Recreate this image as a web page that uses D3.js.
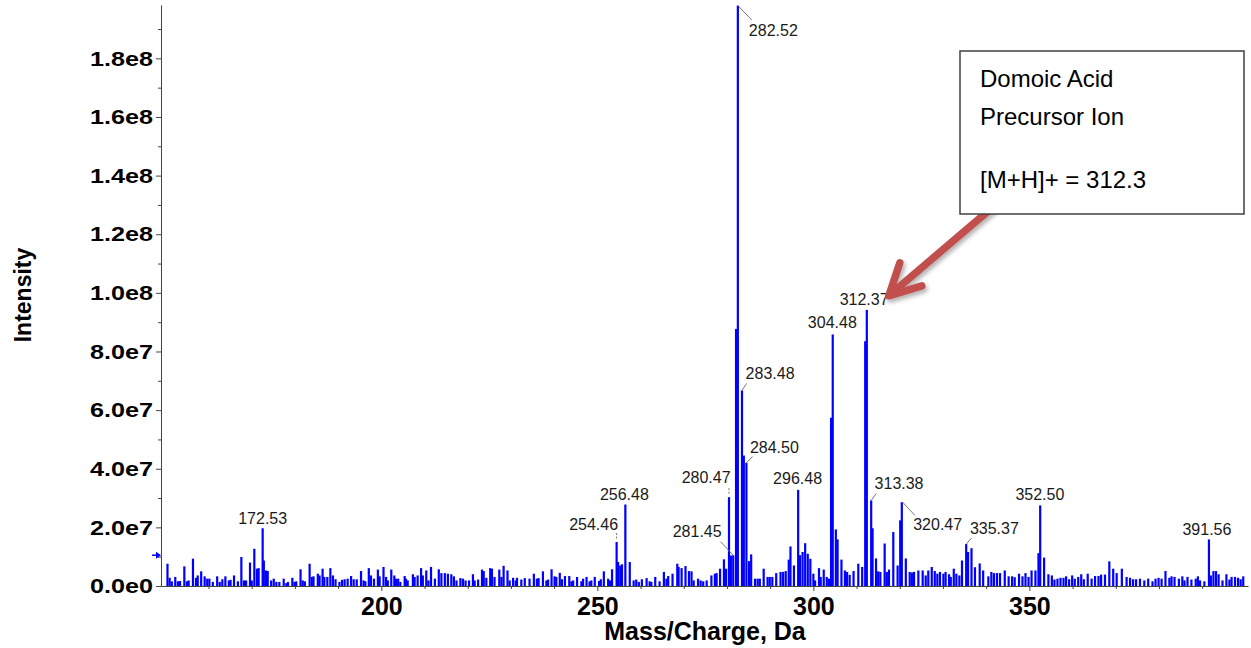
<!DOCTYPE html>
<html>
<head>
<meta charset="utf-8">
<script src="https://cdn.jsdelivr.net/npm/d3@7"></script>
<style>
  body { margin: 0; background: #fff; }
  text { font-family: "Liberation Sans", Arial, sans-serif; }
</style>
</head>
<body>
<div id="mainDiv"></div>
<script>
// spectrum peaks: [m/z, intensity in millions of counts]
var spectrum = [
  [150.5,7.6],[151.0,2.8],[151.5,1.6],[152.3,3.1],[152.9,1.6],[153.4,1.7],[154.4,6.7],[155.0,1.6],[155.4,1.9],[156.4,9.3],
  [157.1,2.8],[157.5,3.6],[158.3,5.0],[159.1,3.3],[159.7,2.5],[160.2,2.5],[161.0,1.4],[162.0,3.3],[162.6,1.4],[163.2,2.3],
  [163.9,3.3],[164.7,1.9],[165.1,2.1],[165.9,3.6],[166.8,1.6],[167.6,9.9],[168.2,1.9],[168.7,1.9],[169.6,8.0],[170.0,1.9],
  [170.6,12.7],[171.2,5.9],[171.6,6.1],[172.53,19.7],[172.8,8.7],[173.3,5.3],[173.7,5.1],[174.5,1.9],[175.1,2.5],[175.7,1.4],
  [176.4,1.4],[177.4,2.5],[178.0,1.0],[178.4,1.4],[179.4,2.8],[179.9,1.4],[180.3,1.6],[181.3,5.7],[181.8,1.9],[182.3,1.6],
  [183.4,7.6],[183.9,3.1],[184.3,3.3],[185.3,4.2],[185.7,3.6],[186.4,5.9],[186.8,3.1],[187.5,3.1],[188.2,6.1],[188.8,3.6],
  [189.4,2.3],[190.3,1.4],[190.9,2.1],[191.5,2.3],[192.2,2.5],[193.0,3.4],[193.6,2.3],[194.3,2.3],[195.3,5.1],[195.9,1.9],
  [196.3,1.6],[197.1,6.1],[197.6,3.6],[198.3,2.5],[199.2,5.6],[199.6,3.3],[200.5,6.5],[201.1,3.1],[201.5,1.9],[202.3,5.6],
  [203.0,3.6],[203.4,2.5],[203.9,2.5],[204.4,1.4],[205.4,3.4],[205.7,2.5],[206.1,1.9],[207.3,4.0],[207.7,3.1],[208.4,3.6],
  [209.2,6.1],[209.6,3.6],[210.4,5.3],[210.9,1.9],[211.5,6.5],[212.4,2.5],[213.3,5.7],[213.9,4.4],[214.7,4.4],[215.4,4.2],
  [216.2,4.0],[216.8,3.3],[217.4,1.9],[218.3,2.7],[218.9,2.5],[219.5,1.9],[220.3,1.9],[221.2,4.0],[221.6,1.9],[222.4,2.2],
  [223.3,5.6],[223.7,5.1],[224.3,2.8],[225.2,6.1],[225.6,5.9],[226.2,3.1],[227.3,5.6],[227.8,3.1],[228.3,6.9],[229.2,5.3],
  [229.7,1.9],[230.5,2.8],[231.1,1.9],[231.4,2.8],[232.4,2.2],[233.2,2.7],[234.3,2.5],[235.3,4.2],[236.0,2.5],[236.4,2.7],
  [237.4,5.0],[238.2,1.9],[238.6,2.2],[239.4,5.7],[240.1,3.3],[240.5,3.1],[241.3,4.5],[241.8,2.3],[242.5,3.4],[243.5,3.4],
  [244.0,1.6],[244.4,1.9],[245.3,3.1],[246.3,1.6],[246.7,2.5],[247.5,3.1],[248.2,1.6],[248.6,1.9],[249.4,3.1],[250.4,1.7],
  [250.8,2.3],[251.5,5.0],[252.5,2.5],[252.9,1.9],[253.4,5.7],[254.46,15.0],[254.8,8.2],[255.3,7.0],[255.7,7.4],[256.48,27.8],
  [257.5,8.2],[258.4,1.9],[259.0,2.2],[259.6,1.4],[260.3,2.3],[261.4,2.7],[262.1,1.6],[262.5,1.4],[263.4,3.1],[264.4,1.6],
  [265.4,4.8],[266.0,2.5],[266.4,3.4],[267.4,4.2],[268.5,7.6],[268.8,6.5],[269.5,6.1],[270.4,6.8],[271.2,5.1],[271.8,5.0],
  [272.3,1.9],[273.3,2.5],[273.9,1.9],[274.5,1.6],[275.3,1.9],[276.4,3.6],[277.2,4.2],[277.6,4.4],[278.4,5.9],[279.3,9.1],
  [279.8,5.9],[280.47,30.3],[280.9,10.4],[281.45,10.5],[282.1,87.7],[282.52,198],[283.48,66.7],[283.9,44.5],[284.50,42.0],[285.1,8.5],
  [285.6,10.8],[286.5,2.5],[287.1,2.5],[287.6,2.5],[288.5,5.9],[289.4,3.1],[289.9,3.1],[290.5,3.1],[291.4,4.4],[292.4,4.8],
  [293.0,4.8],[293.6,5.1],[294.3,9.0],[294.7,13.5],[295.5,7.0],[296.48,32.8],[296.9,10.5],[297.5,11.6],[298.1,14.6],[298.7,11.0],
  [299.3,9.3],[300.0,4.2],[300.4,1.9],[301.3,6.1],[301.7,3.1],[302.4,5.6],[303.1,3.1],[303.6,2.5],[304.1,57.4],[304.48,85.8],
  [305.2,19.3],[305.6,15.9],[306.5,9.0],[307.3,5.3],[307.8,4.8],[308.4,3.8],[309.3,5.1],[310.4,7.6],[311.3,6.5],[312.0,83.5],
  [312.37,94.2],[313.38,29.2],[313.7,19.7],[314.5,9.4],[315.0,5.0],[315.5,4.8],[316.5,14.5],[317.0,4.8],[317.5,5.6],[318.5,18.4],
  [319.5,7.0],[320.1,22.4],[320.47,28.6],[321.4,9.4],[322.3,4.8],[322.8,4.6],[323.3,4.8],[324.3,5.3],[325.3,5.3],[326.0,3.6],
  [326.6,5.3],[327.4,6.5],[328.1,5.1],[328.7,4.2],[329.3,4.8],[330.1,4.2],[330.6,4.8],[331.4,4.0],[331.8,3.1],[332.5,5.9],
  [333.1,4.2],[333.8,3.6],[334.4,8.7],[335.37,14.3],[335.8,11.6],[336.6,12.9],[337.4,6.4],[338.5,7.7],[339.3,5.3],[340.5,3.3],
  [341.2,4.8],[341.8,4.4],[342.5,4.4],[343.2,4.4],[344.3,5.3],[345.2,3.3],[346.0,3.3],[346.6,3.0],[347.6,4.2],[348.4,3.3],
  [349.1,4.4],[349.8,3.1],[350.5,5.3],[351.4,5.3],[352.1,11.2],[352.50,27.5],[353.4,9.7],[354.4,4.0],[355.2,3.6],[355.8,2.2],
  [356.5,2.5],[357.2,2.8],[357.9,2.8],[358.5,3.3],[359.2,2.3],[359.9,3.6],[360.5,2.5],[361.3,3.1],[362.0,4.0],[362.6,2.3],
  [363.5,4.2],[364.4,2.5],[365.2,3.4],[366.0,3.4],[366.6,3.9],[367.5,3.9],[368.5,8.4],[369.4,5.9],[370.2,4.4],[371.4,5.9],
  [372.5,3.1],[373.3,2.8],[374.0,2.3],[374.7,2.3],[375.6,2.5],[376.6,1.9],[377.5,2.5],[378.5,1.6],[379.2,2.5],[379.9,2.8],
  [380.6,2.5],[381.5,5.1],[382.4,2.8],[382.9,3.3],[383.6,3.1],[384.6,2.5],[385.4,3.3],[385.9,1.9],[386.6,3.1],[387.5,2.2],
  [388.5,2.5],[389.0,3.3],[389.5,1.9],[390.5,1.6],[391.56,15.9],[392.0,3.6],[392.6,5.1],[393.2,5.1],[393.8,4.0],[394.7,1.9],
  [395.6,4.0],[396.3,2.2],[396.8,3.1],[397.6,3.1],[398.3,2.8],[398.9,2.3],[399.5,3.3]
];

// labelled peaks (m/z)
var labelledPeaks = [172.53, 254.46, 256.48, 280.47, 281.45, 282.52, 283.48, 284.50,
                     296.48, 304.48, 312.37, 313.38, 320.47, 335.37, 352.50, 391.56];

var yTicks = [0, 2e7, 4e7, 6e7, 8e7, 1e8, 1.2e8, 1.4e8, 1.6e8, 1.8e8];
var xTicks = [200, 250, 300, 350];
var thresholdLevel = 1.05e7;
var noteLines = ["Domoic Acid", "Precursor Ion", "[M+H]+ = 312.3"];

// label placement relative to the peak top (layout only)
var labelLayout = {
  "172.53": { anchor: "middle", dx: 0,    dy: -4.5 },
  "254.46": { anchor: "end",    dx: 1.5,  dy: -11.7, lead: [0, -9, 0, -2], dash: true },
  "256.48": { anchor: "middle", dx: -1,   dy: -4.8 },
  "280.47": { anchor: "end",    dx: 1.6,  dy: -13.8, lead: [0, -9, 0, -3], dash: true },
  "281.45": { anchor: "end",    dx: -11.6, dy: -18,  lead: [-12.6, -13.5, 0, 0] },
  "282.52": { anchor: "start",  dx: 11,   dy: 30,    lead: [1, 1, 13.8, 14.3] },
  "283.48": { anchor: "start",  dx: 3.6,  dy: -11.3, lead: [0, 0, 4.6, -7] },
  "284.50": { anchor: "start",  dx: 3.5,  dy: -10,   lead: [0, 0, 6.2, -6.4] },
  "296.48": { anchor: "middle", dx: -0.6, dy: -6 },
  "304.48": { anchor: "middle", dx: -0.4, dy: -6 },
  "312.37": { anchor: "middle", dx: -2.7, dy: -5 },
  "313.38": { anchor: "start",  dx: 3.4,  dy: -11,   lead: [0, 0, 5.1, -7] },
  "320.47": { anchor: "start",  dx: 11.4, dy: 28.3,  lead: [0.8, 0, 13.1, 13.3] },
  "335.37": { anchor: "start",  dx: 3.7,  dy: -10.3, lead: [0, 0, 5.4, -6] },
  "352.50": { anchor: "middle", dx: -0.3, dy: -5 },
  "391.56": { anchor: "middle", dx: -2,   dy: -4.4 }
};

var svg = d3.select("#mainDiv").append("svg")
    .attr("width", 1251).attr("height", 648);

var x = d3.scaleLinear().domain([149, 400.6]).range([161, 1248]);
var y = d3.scaleLinear().domain([0, 1.982e8]).range([586, 5]);

var expFormat = function(v) { return v.toExponential(1).replace("+", ""); };

// bars
svg.append("g").selectAll("rect")
    .data(spectrum)
    .enter().append("rect")
    .attr("x", function(d) { return x(d[0]) - 1.1; })
    .attr("width", 2.2)
    .attr("y", function(d) { return y(d[1] * 1e6); })
    .attr("height", function(d) { return y(0) - y(d[1] * 1e6); })
    .attr("fill", "#0000ff");

// y axis
var yAxis = svg.append("g").attr("transform", "translate(161,0)")
    .call(d3.axisLeft(y).tickValues(yTicks).tickSize(5).tickSizeOuter(0)
        .tickPadding(3).tickFormat(expFormat));
yAxis.selectAll("text")
    .attr("font-size", 21).attr("font-weight", "bold").attr("fill", "#000")
    .attr("font-family", "Liberation Sans, Arial, sans-serif")
    .attr("textLength", 63).attr("lengthAdjust", "spacingAndGlyphs");
svg.append("g").attr("transform", "translate(161,0)")
    .call(d3.axisLeft(y).tickValues(yTicks.map(function(t) { return t + 1e7; }))
        .tickSize(3).tickFormat(""))
    .select(".domain").remove();

// x axis
var xAxis = svg.append("g").attr("transform", "translate(0,586)")
    .call(d3.axisBottom(x).tickValues(xTicks).tickSize(5).tickSizeOuter(0).tickPadding(6));
xAxis.selectAll("text")
    .attr("font-size", 25).attr("font-weight", "bold").attr("fill", "#000")
    .attr("font-family", "Liberation Sans, Arial, sans-serif");
svg.append("g").attr("transform", "translate(0,586)")
    .call(d3.axisBottom(x)
        .tickValues(d3.range(150, 401, 10).filter(function(t) { return t % 50 !== 0; }))
        .tickSize(3).tickFormat(""))
    .select(".domain").remove();

svg.selectAll(".domain, .tick line").attr("stroke", "#444");

// axis titles
svg.append("text")
    .attr("x", 705).attr("y", 640)
    .attr("text-anchor", "middle")
    .attr("font-size", 25).attr("font-weight", "bold")
    .text("Mass/Charge, Da");
svg.append("text")
    .attr("transform", "translate(31,295) rotate(-90)")
    .attr("text-anchor", "middle")
    .attr("font-size", 23).attr("font-weight", "bold")
    .text("Intensity");

// threshold marker
var ty = y(thresholdLevel);
svg.append("line")
    .attr("x1", 152).attr("x2", 157).attr("y1", ty).attr("y2", ty)
    .attr("stroke", "#0000ff").attr("stroke-width", 1.5);
svg.append("path")
    .attr("d", "M156," + (ty - 3.5) + "L161," + ty + "L156," + (ty + 3.5) + "Z")
    .attr("fill", "#0000ff");

// peak labels
var peakMap = {};
spectrum.forEach(function(d) { peakMap[d[0].toFixed(2)] = d[1]; });

labelledPeaks.forEach(function(mz) {
    var key = mz.toFixed(2);
    var px = x(mz), py = y(peakMap[key] * 1e6);
    var lay = labelLayout[key];
    if (lay.lead) {
        svg.append("line")
            .attr("x1", px + lay.lead[0]).attr("y1", py + lay.lead[1])
            .attr("x2", px + lay.lead[2]).attr("y2", py + lay.lead[3])
            .attr("stroke", "#777").attr("stroke-width", 1)
            .attr("stroke-dasharray", lay.dash ? "2,1.5" : null);
    }
    svg.append("text")
        .attr("x", px + lay.dx).attr("y", py + lay.dy)
        .attr("text-anchor", lay.anchor)
        .attr("font-size", 16).attr("fill", "#1a1a1a")
        .text(key);
});

// annotation arrow pointing at the precursor ion
var defs = svg.append("defs");
var shadow = defs.append("filter").attr("id", "shadow")
    .attr("x", "-20%").attr("y", "-20%").attr("width", "140%").attr("height", "140%");
shadow.append("feDropShadow")
    .attr("dx", 2).attr("dy", 3).attr("stdDeviation", 2)
    .attr("flood-color", "#000").attr("flood-opacity", 0.3);

var tipX = x(312.37) + 21, tipY = y(94.2e6) - 13;
var arrow = svg.append("g").attr("filter", "url(#shadow)")
    .attr("stroke", "#c0504d").attr("fill", "none")
    .attr("stroke-width", 7.5).attr("stroke-linecap", "round").attr("stroke-linejoin", "round");
arrow.append("line")
    .attr("x1", tipX + 2).attr("y1", tipY - 2)
    .attr("x2", tipX + 110).attr("y2", tipY - 94);
arrow.append("polyline")
    .attr("points", [[tipX + 12, tipY - 34], [tipX + 1, tipY - 1], [tipX + 34, tipY - 11]].join(" "));

// annotation box
svg.append("rect")
    .attr("x", 960).attr("y", 51).attr("width", 284).attr("height", 163)
    .attr("fill", "#fff").attr("stroke", "#404040").attr("stroke-width", 1.5);
var noteBaselines = [87, 124.5, 188];
svg.append("g").selectAll("text")
    .data(noteLines)
    .enter().append("text")
    .attr("x", 980)
    .attr("y", function(d, i) { return noteBaselines[i]; })
    .attr("font-family", "Lato, 'Open Sans', sans-serif")
    .attr("font-size", 24).attr("fill", "#000")
    .text(function(d) { return d; });
</script>
</body>
</html>
